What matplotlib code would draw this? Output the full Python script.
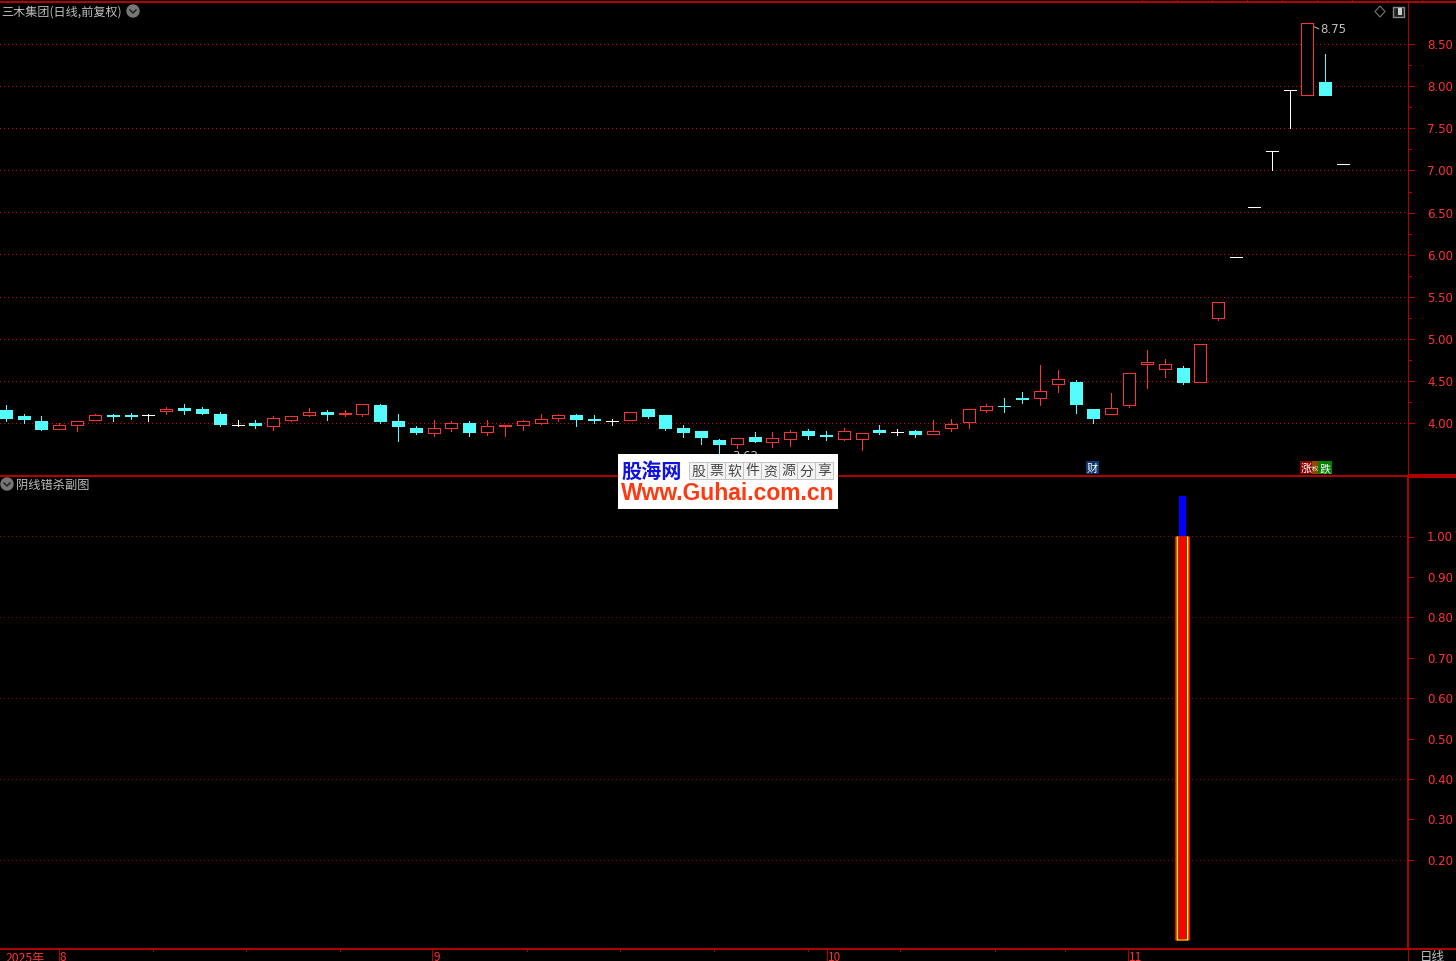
import matplotlib
matplotlib.use('Agg')
from matplotlib import pyplot as plt
from matplotlib.patches import Rectangle, Ellipse, Polygon

plt.rcParams['font.family'] = ['Noto Sans CJK SC', 'DejaVu Sans']
plt.rcParams['lines.scale_dashes'] = False

# body top, body bottom, high, low for each day
tops = [4.15, 4.08, 4.02, 3.97, 4.02, 4.09, 4.09, 4.09, 4.09, 4.17,
        4.18, 4.16, 4.11, 3.98, 4.00, 4.06, 4.08, 4.13, 4.13, 4.12,
        4.22, 4.21, 4.02, 3.94, 3.94, 4.00, 4.00, 3.96, 3.98, 4.02,
        4.05, 4.09, 4.09, 4.05, 4.02, 4.13, 4.16, 4.09, 3.94, 3.90,
        3.80, 3.82, 3.83, 3.82, 3.89, 3.90, 3.86, 3.90, 3.88, 3.92,
        3.89, 3.90, 3.90, 3.99, 4.17, 4.20, 4.20, 4.30, 4.38, 4.52,
        4.49, 4.16, 4.18, 4.59, 4.72, 4.70, 4.65, 4.94, 5.43, 5.97,
        6.57, 7.23, 7.95, 8.75, 8.05, 7.08]
bottoms = [4.06, 4.05, 3.93, 3.93, 3.97, 4.04, 4.08, 4.08, 4.09, 4.14,
           4.15, 4.12, 3.99, 3.98, 3.97, 3.96, 4.04, 4.09, 4.10, 4.10,
           4.11, 4.02, 3.96, 3.89, 3.88, 3.94, 3.89, 3.89, 3.96, 3.97,
           4.00, 4.06, 4.05, 4.03, 4.02, 4.04, 4.08, 3.94, 3.89, 3.83,
           3.75, 3.75, 3.78, 3.77, 3.81, 3.86, 3.84, 3.81, 3.81, 3.89,
           3.89, 3.87, 3.87, 3.94, 4.01, 4.15, 4.20, 4.28, 4.29, 4.46,
           4.23, 4.06, 4.11, 4.21, 4.70, 4.64, 4.49, 4.49, 5.24, 5.97,
           6.57, 7.23, 7.95, 7.90, 7.89, 7.08]
highs = [4.21, 4.11, 4.08, 4.00, 4.02, 4.10, 4.10, 4.12, 4.10, 4.19,
         4.22, 4.19, 4.13, 4.03, 4.04, 4.08, 4.08, 4.18, 4.15, 4.15,
         4.23, 4.23, 4.11, 3.96, 4.03, 4.02, 4.02, 4.04, 3.98, 4.04,
         4.10, 4.10, 4.10, 4.09, 4.05, 4.13, 4.16, 4.09, 3.97, 3.90,
         3.81, 3.82, 3.89, 3.89, 3.91, 3.93, 3.90, 3.94, 3.88, 3.97,
         3.93, 3.91, 4.03, 4.05, 4.17, 4.22, 4.30, 4.37, 4.69, 4.63,
         4.51, 4.16, 4.36, 4.59, 4.87, 4.76, 4.68, 4.94, 5.43, 5.97,
         6.57, 7.23, 7.95, 8.75, 8.38, 7.08]
lows = [4.02, 4.00, 3.92, 3.93, 3.90, 4.03, 4.02, 4.05, 4.02, 4.10,
        4.11, 4.10, 3.96, 3.96, 3.94, 3.92, 4.02, 4.08, 4.03, 4.08,
        4.08, 4.00, 3.79, 3.87, 3.85, 3.90, 3.85, 3.86, 3.85, 3.91,
        3.99, 4.02, 3.96, 4.00, 3.97, 4.04, 4.06, 3.92, 3.83, 3.75,
        3.62, 3.70, 3.77, 3.71, 3.73, 3.81, 3.80, 3.80, 3.68, 3.87,
        3.86, 3.83, 3.87, 3.90, 3.94, 4.13, 4.13, 4.24, 4.21, 4.37,
        4.12, 4.00, 4.10, 4.19, 4.41, 4.55, 4.46, 4.49, 5.22, 5.97,
        6.57, 7.00, 7.50, 7.90, 7.89, 7.08]
# c = down (filled), r = up (hollow), w = flat
up_days = [3, 4, 5, 9, 15, 16, 17, 19, 20, 24, 25, 27, 28, 29, 30, 31, 35, 41, 43,
           44, 47, 48, 52, 53, 54, 55, 58, 59, 62, 63, 64, 65, 67, 68, 73]
flat_days = [8, 13, 34, 50, 69, 70, 71, 72, 75]
kinds = ['c'] * len(tops)
for i in up_days:
    kinds[i] = 'r'
for i in flat_days:
    kinds[i] = 'w'

price_ticks = [4.00, 4.50, 5.00, 5.50, 6.00, 6.50, 7.00, 7.50, 8.00, 8.50]
sub_ticks = [0.20, 0.30, 0.40, 0.50, 0.60, 0.70, 0.80, 0.90, 1.00]
sub_grid = [0.20, 0.40, 0.60, 0.80, 1.00]
signal_day = 66
signal_value = 1.0
signal_top = 1.10
month_labels = ['8', '9', '10', '11']
month_px = [60, 433, 828, 1129]

RED = '#ff3232'
DARK = '#b00000'
CYAN = '#54fcfc'
GREY = '#c0c0c0'
PX = 0.72

W, H = 1456, 962
fig = plt.figure(figsize=(W / 100, H / 100), dpi=100, facecolor='black')


def make_axes(top, bottom):
    return fig.add_axes([0, 1 - bottom / H, 1407 / W, (bottom - top) / H], facecolor='black')


def px_text(x, y, s, **kw):
    fig.text(x / W, 1 - (y + 1) / H, s, **kw)


def px_line(x0, y0, x1, y1, lw=1, color=DARK):
    fig.add_artist(plt.Line2D([x0 / W, x1 / W], [1 - (y0 + 0.5) / H, 1 - (y1 + 0.5) / H], color=color,
                              lw=lw * PX, antialiased=False, solid_capstyle='butt'))


def chevron(x, y):
    fig.add_artist(Ellipse((x / W, 1 - y / H), 12 / W, 12 / H, transform=fig.transFigure, color='#777777'))
    fig.add_artist(plt.Line2D([(x - 3) / W, x / W, (x + 3) / W],
                              [1 - (y - 1) / H, 1 - (y + 2) / H, 1 - (y - 1) / H],
                              color='#222222', lw=1.1))


xlim = (-5.75 / 17.83, (1407 - 5.75) / 17.83)

# ---- price panel
ax = make_axes(3.5, 476.5)
ax.set_xlim(xlim)
ax.set_ylim(3.375, 8.993)
ax.axis('off')
for p in price_ticks:
    ax.axhline(p, color='#d00000', lw=PX, ls=(0, (PX, 3 * PX)), antialiased=False, zorder=1)

bw = 12 / 17.83
for i, (t, b, h, l, k) in enumerate(zip(tops, bottoms, highs, lows, kinds)):
    color = {'c': CYAN, 'r': RED, 'w': 'white'}[k]
    if h > t:
        ax.plot([i, i], [t, h], color=color, lw=PX, antialiased=False, zorder=3)
    if l < b:
        ax.plot([i, i], [l, b], color=color, lw=PX, antialiased=False, zorder=3)
    if k == 'r':
        ax.add_patch(Rectangle((i - bw / 2, b), bw, t - b, fc='black', ec=RED, lw=PX, antialiased=False, zorder=4))
    elif k == 'c' and t > b:
        ax.add_patch(Rectangle((i - bw / 2, b), bw, t - b, fc=CYAN, ec=CYAN, lw=PX, antialiased=False, zorder=4))
    else:
        ax.plot([i - bw / 2, i + bw / 2], [t, t], color=color, lw=PX, antialiased=False,
                solid_capstyle='butt', zorder=4)

ax.text(73.75, 8.68, '8.75', color=GREY, fontsize=8.5, va='center', family='DejaVu Sans')
ax.annotate('', xy=(73, 8.74), xytext=(73.65, 8.68),
            arrowprops=dict(arrowstyle='->', color=GREY, lw=0.7, shrinkA=0, shrinkB=0, mutation_scale=6))
ax.text(40.73, 3.614, '3.62', color=GREY, fontsize=8.5, va='center', family='DejaVu Sans', zorder=2)

# ---- signal panel
sub = make_axes(477.5, 949.5)
sub.set_xlim(xlim)
sub.set_ylim(-0.0198, 1.1485)
sub.axis('off')
for v in sub_grid:
    sub.axhline(v, color='#a00000', lw=PX, ls=(0, (PX, 3 * PX)), antialiased=False, zorder=1)
for width, color, base in [(15, '#ff0000', 0), (11.67, '#ffff00', 0), (8.33, 'black', 0.003), (7, '#ff0000', 0.003)]:
    bars = sub.bar(signal_day, signal_value - base, width / 17.83, bottom=base, color=color, zorder=3)
    bars[0].set_snap(False)
sub.bar(signal_day, signal_top - signal_value, 7 / 17.83, bottom=signal_value, color='#0000ff', zorder=3)

# ---- frame, drawn in pixels
px_line(0, 2, W, 2, lw=2)
px_line(0, 476, W, 476, lw=1.5)
px_line(1408, 476, W, 476, lw=2.5)
px_line(0, 949, W, 949, lw=1.5)
px_line(1407.5, 3, 1407.5, 476, lw=1)
px_line(1408, 476, 1408, 949, lw=2)
px_line(1407.5, 949, 1407.5, H, lw=1)
for x in range(1142, 1440, 35):
    px_line(x, 0, x, 2, lw=1)
px_line(22, 0, 22, 2, lw=1)

for p in price_ticks:
    y = 423.5 - (p - 4) * 84.2
    px_line(1408, y, 1414, y)
    px_text(1453, y, '%.2f' % p, color=RED, fontsize=8.5, ha='right', va='center', family='DejaVu Sans')
    if p < 8.5:
        px_line(1408, y - 21, 1411, y - 21)
for v in sub_ticks:
    y = 941 - v * 404
    px_line(1408, y, 1413, y)
    px_text(1453, y, '%.2f' % v, color=RED, fontsize=8.5, ha='right', va='center', family='DejaVu Sans')

for s, x in zip(month_labels, month_px):
    px_line(x - 1, 949, x - 1, H)
    px_text(x, 957, s, color=RED, fontsize=8.5, va='center')
for x in [153, 246, 340, 527, 620, 714, 808, 900, 995, 1065]:
    px_line(x, 949, x, 951)
px_text(6, 957.5, '2025年', color=RED, fontsize=8.8, va='center')
px_text(1420, 957, '日线', color=GREY, fontsize=9, va='center')

# ---- titles and icons
px_text(1, 11.5, '三木集团(日线,前复权)', color=GREY, fontsize=8.7, va='center')
chevron(133, 12)
chevron(7, 485)
px_text(16, 484, '阴线错杀副图', color=GREY, fontsize=8.8, va='center')
fig.add_artist(Polygon([(1380 / W, 1 - 7 / H), (1385 / W, 1 - 12.5 / H), (1380 / W, 1 - 18 / H), (1375 / W, 1 - 12.5 / H)],
                       closed=True, fc='none', ec='#777777', lw=0.8, transform=fig.transFigure))
fig.add_artist(Rectangle((1392.5 / W, 1 - 17.5 / H), 11 / W, 10 / H, fc='#222222', ec='#888888', lw=1, transform=fig.transFigure))
fig.add_artist(Rectangle((1398 / W, 1 - 16 / H), 4 / W, 7 / H, fc='#cccccc', ec='none', transform=fig.transFigure))

# ---- event tags
for x0, x1, color in [(1086, 1099, '#0a3a6e'), (1300, 1312, '#8b0000'), (1312, 1318, '#8b4a00'), (1318, 1332, '#008000')]:
    fig.add_artist(Rectangle((x0 / W, 1 - 475 / H), (x1 - x0) / W, 13 / H, fc=color, ec='none', transform=fig.transFigure, zorder=5))
for x, s, size in [(1092.5, '财', 8), (1306, '涨', 8), (1315, '权', 4.5), (1325, '跌', 8)]:
    px_text(x, 468, s, color='white', fontsize=size, ha='center', va='center', zorder=6)

# ---- watermark logo
fig.add_artist(Rectangle((618 / W, 1 - 510 / H), 220 / W, 55 / H, fc='white', ec='none', transform=fig.transFigure, zorder=7))
px_text(651.5, 470.5, '股海网', color='#1010e0', fontsize=14.5, weight='bold', ha='center', va='center', zorder=8)
for j, s in enumerate('股票软件资源分享'):
    x = 689 + j * 18
    fig.add_artist(Rectangle((x / W, 1 - 480 / H), 18 / W, 17 / H, fc='#f4f4f4', ec='#c4c4c4', lw=0.7,
                             transform=fig.transFigure, zorder=8))
    px_text(x + 9, 470.5, s, color='#444444', fontsize=10, ha='center', va='center', zorder=9)
px_text(728, 493, 'Www.Guhai.com.cn', color='#ff3a10', fontsize=16.5, weight='bold', ha='center', va='center',
        family='Liberation Sans', zorder=8)

fig.savefig('out.png', dpi=100, facecolor='black')
